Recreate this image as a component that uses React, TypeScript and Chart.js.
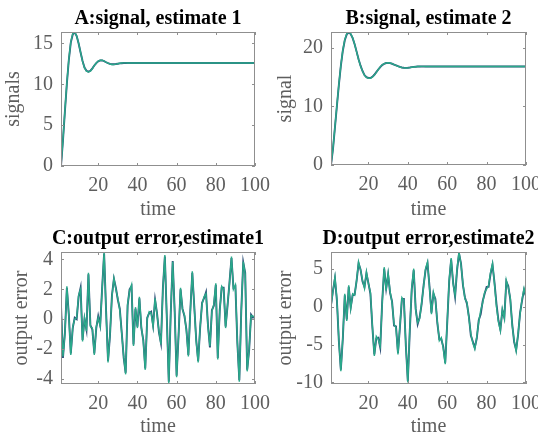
import React, { useEffect, useRef } from "react";
import { Chart, registerables } from "chart.js";
Chart.register(...registerables);

const time = Array.from({ length: 100 }, (_, i) => i + 1);
const xTicks = [20, 40, 60, 80, 100];

const sigA1 = [0, 3.2, 6.8, 10.2, 13.1, 15.2, 16.2, 16.4, 15.9, 15.0,
  13.9, 12.8, 12.0, 11.6, 11.5, 11.6, 11.9, 12.3, 12.6, 12.85,
  12.95, 12.95, 12.85, 12.7, 12.58, 12.48, 12.43, 12.43, 12.47, 12.52,
  12.57, 12.6, 12.62, 12.62, 12.61, 12.6, 12.6, 12.6, 12.6, 12.6,
  12.6, 12.6, 12.6, 12.6, 12.6, 12.6, 12.6, 12.6, 12.6, 12.6,
  12.6, 12.6, 12.6, 12.6, 12.6, 12.6, 12.6, 12.6, 12.6, 12.6,
  12.6, 12.6, 12.6, 12.6, 12.6, 12.6, 12.6, 12.6, 12.6, 12.6,
  12.6, 12.6, 12.6, 12.6, 12.6, 12.6, 12.6, 12.6, 12.6, 12.6,
  12.6, 12.6, 12.6, 12.6, 12.6, 12.6, 12.6, 12.6, 12.6, 12.6,
  12.6, 12.6, 12.6, 12.6, 12.6, 12.6, 12.6, 12.6, 12.6, 12.6];
const sigA2 = [0, 3.1, 6.7, 10.1, 13.0, 15.1, 16.1, 16.35, 15.9, 15.0,
  13.9, 12.85, 12.05, 11.65, 11.55, 11.65, 11.95, 12.3, 12.6, 12.82,
  12.92, 12.92, 12.83, 12.7, 12.58, 12.5, 12.45, 12.45, 12.48, 12.52,
  12.56, 12.58, 12.6, 12.6, 12.6, 12.6, 12.6, 12.6, 12.6, 12.6,
  12.6, 12.6, 12.6, 12.6, 12.6, 12.6, 12.6, 12.6, 12.6, 12.6,
  12.6, 12.6, 12.6, 12.6, 12.6, 12.6, 12.6, 12.6, 12.6, 12.6,
  12.6, 12.6, 12.6, 12.6, 12.6, 12.6, 12.6, 12.6, 12.6, 12.6,
  12.6, 12.6, 12.6, 12.6, 12.6, 12.6, 12.6, 12.6, 12.6, 12.6,
  12.6, 12.6, 12.6, 12.6, 12.6, 12.6, 12.6, 12.6, 12.6, 12.6,
  12.6, 12.6, 12.6, 12.6, 12.6, 12.6, 12.6, 12.6, 12.6, 12.6];

const sigB1 = [0, 2.8, 6.5, 10.2, 13.8, 17.0, 19.6, 21.4, 22.4, 22.7,
  22.4, 21.7, 20.6, 19.3, 18.0, 16.9, 16.0, 15.3, 14.95, 14.8,
  14.8, 15.0, 15.35, 15.8, 16.3, 16.75, 17.1, 17.3, 17.42, 17.45,
  17.4, 17.3, 17.15, 17.0, 16.85, 16.72, 16.62, 16.57, 16.55, 16.57,
  16.62, 16.68, 16.73, 16.77, 16.8, 16.82, 16.83, 16.83, 16.82, 16.8,
  16.8, 16.8, 16.8, 16.8, 16.8, 16.8, 16.8, 16.8, 16.8, 16.8,
  16.8, 16.8, 16.8, 16.8, 16.8, 16.8, 16.8, 16.8, 16.8, 16.8,
  16.8, 16.8, 16.8, 16.8, 16.8, 16.8, 16.8, 16.8, 16.8, 16.8,
  16.8, 16.8, 16.8, 16.8, 16.8, 16.8, 16.8, 16.8, 16.8, 16.8,
  16.8, 16.8, 16.8, 16.8, 16.8, 16.8, 16.8, 16.8, 16.8, 16.8];
const sigB2 = [0, 2.7, 6.4, 10.1, 13.7, 16.9, 19.5, 21.3, 22.3, 22.6,
  22.35, 21.65, 20.6, 19.35, 18.05, 16.95, 16.05, 15.35, 14.98, 14.85,
  14.85, 15.05, 15.4, 15.85, 16.3, 16.72, 17.05, 17.27, 17.4, 17.42,
  17.38, 17.28, 17.14, 17.0, 16.86, 16.74, 16.65, 16.6, 16.58, 16.6,
  16.64, 16.7, 16.74, 16.78, 16.8, 16.81, 16.82, 16.82, 16.81, 16.8,
  16.8, 16.8, 16.8, 16.8, 16.8, 16.8, 16.8, 16.8, 16.8, 16.8,
  16.8, 16.8, 16.8, 16.8, 16.8, 16.8, 16.8, 16.8, 16.8, 16.8,
  16.8, 16.8, 16.8, 16.8, 16.8, 16.8, 16.8, 16.8, 16.8, 16.8,
  16.8, 16.8, 16.8, 16.8, 16.8, 16.8, 16.8, 16.8, 16.8, 16.8,
  16.8, 16.8, 16.8, 16.8, 16.8, 16.8, 16.8, 16.8, 16.8, 16.8];

const errC1 = [0.8, -2.5, -1.0, 2.2, 0.2, -2.4, -0.5, 0.0, 0.1, 1.6,
  2.0, -1.5, 0.1, -0.8, 3.1, -0.5, -0.6, -2.4, -0.5, 0.1,
  -0.5, 2.0, 4.5, 0.5, -2.9, -1.0, 1.5, 2.75, 2.0, 1.4,
  0.6, -1.0, -2.5, -3.7, 1.0, 1.9, 2.3, -1.8, 0.8, -0.6,
  1.5, -0.5, -1.5, -3.4, 0.0, 0.5, 0.4, -0.5, 1.4, 0.3,
  -0.8, -1.7, 2.0, 4.3, 0.0, -4.3, 0.5, 3.85, 0.5, -3.9,
  -1.0, 2.1, 0.6, 0.3, -0.8, -2.5, 0.5, 3.2, 0.8, -1.5,
  -2.9, -0.5, 1.0, 1.5, 1.7, -0.5, -1.8, 0.5, 1.0, 2.4,
  -2.7, 0.5, 2.2, 2.0, -0.6, 1.0, 2.4, 4.2, 2.0, 2.3,
  -1.5, -4.2, 0.5, 3.85, 3.0, -3.5, -2.0, 0.25, 0.2, 0.1];
const errC2 = [0.9, -2.6, -0.9, 2.1, 0.3, -2.3, -0.6, 0.1, 0.0, 1.5,
  2.1, -1.4, 0.0, -0.7, 3.0, -0.4, -0.7, -2.3, -0.6, 0.2,
  -0.4, 2.1, 4.4, 0.6, -2.8, -1.1, 1.6, 2.7, 2.1, 1.3,
  0.7, -0.9, -2.6, -3.6, 0.9, 2.0, 2.2, -1.7, 0.7, -0.5,
  1.4, -0.6, -1.4, -3.3, 0.1, 0.4, 0.5, -0.4, 1.3, 0.4,
  -0.9, -1.6, 2.1, 4.2, 0.1, -4.2, 0.4, 3.9, 0.6, -3.8,
  -1.1, 2.0, 0.7, 0.2, -0.7, -2.4, 0.6, 3.1, 0.9, -1.4,
  -2.8, -0.6, 1.1, 1.4, 1.8, -0.4, -1.9, 0.6, 0.9, 2.3,
  -2.6, 0.6, 2.1, 2.1, -0.5, 0.9, 2.5, 4.1, 2.1, 2.2,
  -1.6, -4.1, 0.6, 3.8, 3.1, -3.4, -2.1, 0.3, 0.1, 0.2];

const errD1 = [0.1, 2.0, 3.9, 1.0, -4.5, -8.5, -4.0, 1.7, -1.9, 2.8,
  -0.3, 1.7, 1.5, 3.5, 5.9, 4.8, 3.5, 2.4, 4.6, 3.0,
  1.9, -2.5, -6.5, -3.9, -4.3, -5.2, 0.5, 5.2, 2.1, 4.4,
  2.0, 0.5, -2.3, -2.8, -6.3, -2.5, 1.2, 0.8, -5.0, -10.0,
  -3.0, 2.5, 5.0, -0.5, -2.1, -1.6, 0.5, 2.6, 5.0, 5.9,
  2.5, -1.0, 1.9, 0.8, -2.0, -4.5, -4.1, -5.5, -7.6, -2.0,
  3.5, 6.4, 3.0, 1.5, 5.0, 7.2, 5.5, 3.0, 1.0, 0.6,
  -1.5, -3.6, -4.8, -5.6, -4.0, -2.0, -0.5, 0.5, 1.9, 2.3,
  2.8, 4.5, 5.7, 3.0, 0.0, -2.0, -3.2, -0.3, -1.6, 3.5,
  2.5, 1.2, -2.5, -4.5, -5.9, -3.5, -1.0, 1.0, 2.4, 1.2];
const errD2 = [0.2, 2.1, 3.7, 0.8, -4.6, -8.3, -4.2, 1.5, -1.7, 2.6,
  -0.1, 1.5, 1.6, 3.4, 5.7, 4.9, 3.3, 2.6, 4.4, 3.1,
  1.7, -2.7, -6.3, -4.2, -4.1, -5.4, 0.7, 5.0, 2.4, 4.2,
  1.8, 0.7, -2.5, -2.6, -6.1, -2.7, 1.0, 1.0, -5.2, -9.8,
  -3.2, 2.3, 4.8, -0.3, -2.3, -1.4, 0.3, 2.8, 4.8, 5.7,
  2.7, -0.8, 1.7, 1.0, -2.2, -4.3, -4.3, -5.3, -7.4, -2.2,
  3.3, 6.2, 3.2, 1.3, 4.8, 7.0, 5.7, 2.8, 1.2, 0.4,
  -1.3, -3.8, -4.6, -5.4, -4.2, -1.8, -1.0, 0.7, 1.7, 2.6,
  2.6, 4.3, 5.5, 3.2, 0.4, -1.8, -3.0, -0.5, -1.4, 3.3,
  2.7, 1.0, -2.3, -4.7, -5.7, -3.7, -0.8, 0.8, 2.2, 1.4];

const SERIF = '"Liberation Serif", "Times New Roman", serif';
const GREEN = "#2aa98a";
const DARK = "#30527a";
const TXT = "#5e5e5e";
const BOXC = "#8f8f8f";

const framePlugin = {
  id: "frame",
  afterDraw(chart: any, _args: any, opts: any) {
    const { ctx, chartArea: a, scales } = chart;
    ctx.save();
    ctx.strokeStyle = BOXC;
    ctx.lineWidth = 1;
    ctx.strokeRect(Math.round(a.left) + 0.5, Math.round(a.top) + 0.5, Math.round(a.width) - 1, Math.round(a.height) - 1);
    const tl = 3;
    ctx.beginPath();
    scales.x.ticks.forEach((t: any) => {
      const px = Math.round(scales.x.getPixelForValue(t.value)) + 0.5;
      ctx.moveTo(px, a.bottom); ctx.lineTo(px, a.bottom - tl);
      ctx.moveTo(px, a.top); ctx.lineTo(px, a.top + tl);
    });
    scales.y.ticks.forEach((t: any) => {
      const py = Math.round(scales.y.getPixelForValue(t.value)) + 0.5;
      ctx.moveTo(a.left, py); ctx.lineTo(a.left + tl, py);
      ctx.moveTo(a.right, py); ctx.lineTo(a.right - tl, py);
    });
    ctx.stroke();
    ctx.fillStyle = "#000";
    ctx.font = `bold 20px ${SERIF}`;
    ctx.textAlign = "center";
    ctx.textBaseline = "alphabetic";
    ctx.fillText(opts.text, (a.left + a.right) / 2, a.top - 8);
    ctx.restore();
  },
};

type Cfg = {
  title: string; yLabel: string; s1: number[]; s2: number[];
  yMin: number; yMax: number; yTicks: number[];
  box: { left: number; top: number; width: number; height: number };
  area: { l: number; r: number; t: number; b: number };
  yTitleX: number; xTitleOff: number;
};

const panels: Cfg[] = [
  { title: "A:signal, estimate 1", yLabel: "signals", s1: sigA1, s2: sigA2, yMin: 0, yMax: 16.4, yTicks: [0, 5, 10, 15],
    box: { left: 0, top: 0, width: 285, height: 222 }, area: { l: 61, r: 255, t: 32, b: 166 }, yTitleX: 14, xTitleOff: 44 },
  { title: "B:signal, estimate 2", yLabel: "signal", s1: sigB1, s2: sigB2, yMin: 0, yMax: 22.7, yTicks: [0, 10, 20],
    box: { left: 269, top: 0, width: 269, height: 222 }, area: { l: 62, r: 257, t: 32, b: 165 }, yTitleX: 17, xTitleOff: 45 },
  { title: "C:output error,estimate1", yLabel: "output error", s1: errC1, s2: errC2, yMin: -4.35, yMax: 4.5, yTicks: [-4, -2, 0, 2, 4],
    box: { left: 0, top: 220, width: 285, height: 220 }, area: { l: 61, r: 255, t: 32, b: 164 }, yTitleX: 22, xTitleOff: 43 },
  { title: "D:output error,estimate2", yLabel: "output error", s1: errD1, s2: errD2, yMin: -10.2, yMax: 7.2, yTicks: [-10, -5, 0, 5],
    box: { left: 269, top: 220, width: 269, height: 220 }, area: { l: 62, r: 257, t: 32, b: 164 }, yTitleX: 17, xTitleOff: 43 },
];

function Panel({ cfg }: { cfg: Cfg }) {
  const ref = useRef<HTMLCanvasElement>(null);
  useEffect(() => {
    const { box, area } = cfg;
    const H = box.height - area.b;
    const chart = new Chart(ref.current as HTMLCanvasElement, {
      type: "line",
      data: {
        labels: time,
        datasets: [
          { data: cfg.s1, borderColor: GREEN, borderWidth: 1.4, pointRadius: 0, tension: 0, order: 0, fill: false },
          { data: cfg.s2, borderColor: DARK, borderWidth: 1.9, pointRadius: 0, tension: 0, order: 1, fill: false },
        ],
      },
      options: {
        animation: false,
        responsive: false,
        devicePixelRatio: 1,
        layout: { padding: { left: 0, top: area.t, right: box.width - area.r, bottom: 0 } },
        plugins: {
          legend: { display: false },
          tooltip: { enabled: false },
          title: { display: false },
          frame: { text: cfg.title },
        } as any,
        scales: {
          x: {
            type: "linear", min: 1, max: 100,
            grid: { display: false, drawTicks: false },
            border: { display: false },
            ticks: { color: TXT, font: { family: SERIF, size: 20 }, padding: 8, autoSkip: false, maxRotation: 0 },
            afterBuildTicks: (s: any) => { s.ticks = xTicks.map((v) => ({ value: v })); },
            afterFit: (s: any) => { s.height = H; s.paddingLeft = 0; s.paddingRight = 0; },
            title: { display: true, text: "time", color: TXT, font: { family: SERIF, size: 20 },
              padding: { top: 0, bottom: H - 12 - cfg.xTitleOff } },
          },
          y: {
            type: "linear", min: cfg.yMin, max: cfg.yMax,
            grid: { display: false, drawTicks: false },
            border: { display: false },
            ticks: { color: TXT, font: { family: SERIF, size: 20 }, padding: 8, includeBounds: false },
            afterBuildTicks: (s: any) => { s.ticks = cfg.yTicks.map((v) => ({ value: v })); },
            afterFit: (s: any) => { s.width = area.l; s.paddingTop = 0; s.paddingBottom = 0; },
            title: { display: true, text: cfg.yLabel, color: TXT, font: { family: SERIF, size: 20 },
              padding: { top: cfg.yTitleX - 12, bottom: 0 } },
          },
        },
      } as any,
      plugins: [framePlugin as any],
    });
    return () => chart.destroy();
  }, [cfg]);
  const { box } = cfg;
  return (
    <canvas ref={ref} width={box.width} height={box.height}
      style={{ position: "absolute", left: box.left, top: box.top, width: box.width, height: box.height }} />
  );
}

export default function App() {
  return (
    <div style={{ position: "absolute", left: 0, top: 0, width: 538, height: 440, background: "#fff", overflow: "hidden" }}>
      {panels.map((p) => <Panel key={p.title} cfg={p} />)}
    </div>
  );
}
